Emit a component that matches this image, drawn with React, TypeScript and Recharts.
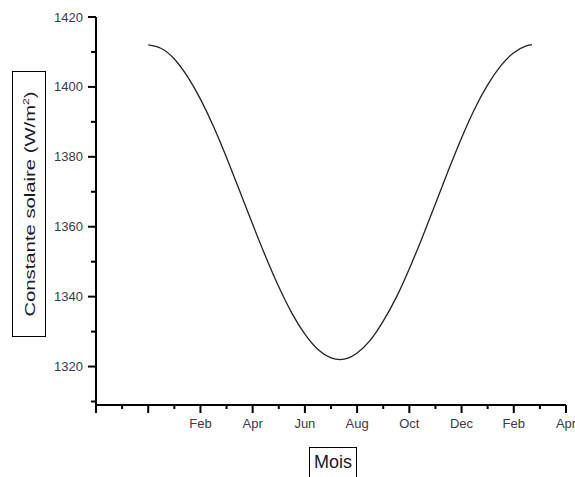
import { CartesianGrid, Line, LineChart, XAxis, YAxis } from 'recharts';

// month position (1 unit = 1 month on the axis) and solar constant (W/m2)
const months = [2, 2.5, 3, 3.5, 4, 4.5, 5, 5.5, 6, 6.5, 7, 7.5, 8, 8.5, 9, 9.5, 10, 10.5, 11, 11.5, 12, 12.5, 13, 13.5, 14, 14.5, 15, 15.5, 16, 16.5, 16.7];
const solarConstant = [1412, 1411, 1408, 1403, 1396.5, 1388.7, 1379.8, 1370.3, 1360.7, 1351.4, 1342.8, 1335.3, 1329.3, 1324.9, 1322.5, 1322.1, 1323.9, 1327.5, 1333, 1339.8, 1348, 1357, 1366.6, 1376.2, 1385.4, 1393.7, 1400.6, 1406, 1409.8, 1411.8, 1412];

const xTicks = [0, 1, 2, 3, 4, 5, 6, 7, 8, 9, 10, 11, 12, 13, 14, 15, 16, 17, 18];
const xMajorLabels = ['', '', 'Feb', 'Apr', 'Jun', 'Aug', 'Oct', 'Dec', 'Feb', 'Apr'];
const yTicks = [1310, 1320, 1330, 1340, 1350, 1360, 1370, 1380, 1390, 1400, 1410, 1420];

const data = months.map((m, i) => ({ m, v: solarConstant[i] }));

const tickFont = { fontFamily: 'Liberation Sans, Arial, sans-serif', fontSize: 13, fill: '#3a3a48' };

function YTick(props: any) {
  const { x, y, payload } = props;
  const major = payload.value % 20 === 0;
  return (
    <g>
      <line x1={x} x2={x - (major ? 8 : 5)} y1={y} y2={y} stroke="#000" strokeWidth={2} />
      {major && (
        <text x={x - 13} y={y} dy={4.5} textAnchor="end" {...tickFont}>
          {payload.value}
        </text>
      )}
    </g>
  );
}

function XTick(props: any) {
  const { x, y, payload } = props;
  const major = payload.value % 2 === 0;
  const label = major ? xMajorLabels[payload.value / 2] : '';
  return (
    <g>
      <line x1={x} x2={x} y1={y} y2={y + (major ? 8 : 4)} stroke="#000" strokeWidth={2} />
      {label && (
        <text x={x} y={y + 23} textAnchor="middle" {...tickFont}>
          {label}
        </text>
      )}
    </g>
  );
}

export default function App() {
  return (
    <div style={{ position: 'absolute', left: 0, top: 0, width: 575, height: 477, background: '#fff', overflow: 'hidden' }}>
      <LineChart width={575} height={477} data={data} margin={{ top: 17, right: 9, bottom: 42, left: 36 }}>
        <CartesianGrid stroke="none" />
        <XAxis
          dataKey="m"
          type="number"
          domain={[0, 18]}
          ticks={xTicks}
          interval={0}
          tickSize={0}
          tickMargin={0}
          height={30}
          axisLine={{ stroke: '#000', strokeWidth: 2 }}
          tickLine={false}
          tick={<XTick />}
        />
        <YAxis
          type="number"
          domain={[1309, 1420]}
          ticks={yTicks}
          interval={0}
          tickSize={0}
          tickMargin={0}
          width={60}
          axisLine={{ stroke: '#000', strokeWidth: 2 }}
          tickLine={false}
          tick={<YTick />}
        />
        <Line dataKey="v" type="natural" stroke="#222" strokeWidth={1.3} dot={false} isAnimationActive={false} />
      </LineChart>
      <div
        style={{
          position: 'absolute', left: 12, top: 71, width: 32, height: 264,
          border: '1px solid #000', boxSizing: 'content-box',
        }}
      >
        <div
          style={{
            position: 'absolute', left: 16, top: 132,
            transform: 'translate(-50%, -50%) rotate(-90deg) scaleX(1.35)',
            whiteSpace: 'nowrap', fontFamily: 'Liberation Sans, Arial, sans-serif', fontSize: 15, color: '#1a1a2a',
          }}
        >
          Constante solaire (W/m<sup style={{ fontSize: 9 }}>2</sup>)
        </div>
      </div>
      <div
        style={{
          position: 'absolute', left: 309, top: 447, width: 46, height: 40,
          border: '1px solid #000', fontFamily: 'Liberation Sans, Arial, sans-serif', fontSize: 18, color: '#1a1a2a',
          textAlign: 'center', lineHeight: '28px',
        }}
      >
        Mois
      </div>
    </div>
  );
}
